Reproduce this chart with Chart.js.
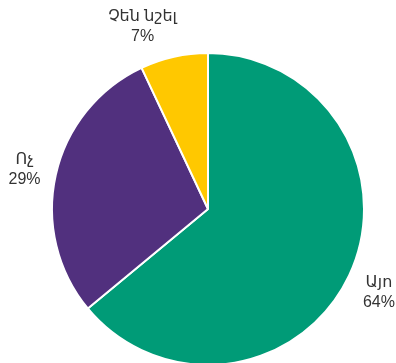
<!DOCTYPE html>
<html>
<head>
<meta charset="utf-8">
<script src="https://cdn.jsdelivr.net/npm/chart.js@4"></script>
<style>
  html, body { margin: 0; padding: 0; background: #fff; }
  #wrap { width: 396px; height: 363px; }
</style>
</head>
<body>
<div id="wrap"><canvas id="pieChart" width="396" height="363"></canvas></div>
<script>
const categories = ['Այո', 'Ոչ', 'Չեն նշել'];
const shares = [64, 29, 7];
const sliceColors = ['#009B77', '#51307E', '#FFC800'];

// labels outside the slices, with a small nudge per slice
const outsideLabels = {
  id: 'outsideLabels',
  afterDatasetsDraw(chart, args, opts) {
    const ctx = chart.ctx;
    const meta = chart.getDatasetMeta(0);
    ctx.save();
    ctx.font = '16px "Liberation Sans", "DejaVu Sans", sans-serif';
    ctx.fillStyle = '#333';
    ctx.textAlign = 'center';
    ctx.textBaseline = 'middle';
    meta.data.forEach((arc, i) => {
      const p = arc.getProps(['x', 'y', 'startAngle', 'endAngle', 'outerRadius'], true);
      const mid = (p.startAngle + p.endAngle) / 2;
      const r = p.outerRadius + opts.gap;
      const nudge = opts.nudge[i] || [0, 0];
      const x = p.x + Math.cos(mid) * r + nudge[0];
      const y = p.y + Math.sin(mid) * r + nudge[1];
      ctx.fillText(chart.data.labels[i], x, y - 9);
      ctx.fillText(shares[i] + '%', x, y + 11);
    });
    ctx.restore();
  }
};

new Chart(document.getElementById('pieChart').getContext('2d'), {
  type: 'pie',
  data: {
    labels: categories,
    datasets: [{
      data: shares,
      backgroundColor: sliceColors,
      borderColor: '#ffffff',
      borderWidth: 2
    }]
  },
  options: {
    responsive: false,
    animation: false,
    radius: 156,
    layout: { padding: { left: 20, right: 0, top: 55, bottom: 0 } },
    plugins: {
      legend: { display: false },
      tooltip: { enabled: false },
      outsideLabels: { gap: 34, nudge: [[-1, 2], [2, 1], [-24, 2]] }
    }
  },
  plugins: [outsideLabels]
});
</script>
</body>
</html>
